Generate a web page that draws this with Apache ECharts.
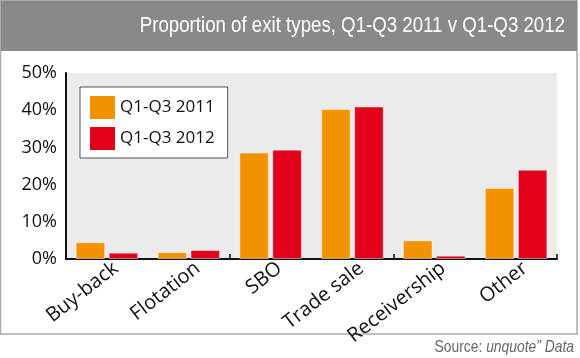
<!DOCTYPE html>
<html>
<head>
<meta charset="utf-8">
<script src="https://cdn.jsdelivr.net/npm/echarts@6/dist/echarts.min.js"></script>
<style>
html,body{margin:0;padding:0;background:#fff;}
#c{width:580px;height:358px;}
</style>
</head>
<body>
<div id="c"></div>
<script>
const categories = ['Buy-back', 'Flotation', 'SBO', 'Trade sale', 'Receivership', 'Other'];
const seriesNames = ['Q1-Q3 2011', 'Q1-Q3 2012'];
const values2011 = [4.5, 1.8, 28.6, 40.3, 5.0, 19.1];
const values2012 = [1.7, 2.4, 29.4, 41.0, 0.9, 24.0];
const titleText = 'Proportion of exit types, Q1-Q3 2011 v Q1-Q3 2012';

const FONT = '"Open Sans", "Noto Sans", sans-serif';
const SANS = '"Liberation Sans", Arial, sans-serif';

const chart = echarts.init(document.getElementById('c'), null, {renderer: 'canvas'});
chart.setOption({
  animation: false,
  backgroundColor: '#ffffff',
  graphic: [
    {type: 'rect', z: -10, shape: {x: 0.5, y: 0.5, width: 576.5, height: 333.5},
     style: {fill: '#ffffff', stroke: '#aaaaaa', lineWidth: 1.5}},
    {type: 'rect', z: -9, shape: {x: 1, y: 1, width: 576, height: 50},
     style: {fill: '#88898b'}},
    {type: 'text', x: 565, y: 26, scaleX: 0.83, z: 10,
     style: {text: titleText, fill: '#ffffff', font: '22.5px ' + SANS,
             align: 'right', verticalAlign: 'middle'}},
    {type: 'text', x: 574, y: 347, scaleX: 0.84, z: 10,
     style: {text: '{a|Source: }{b|unquote\u201D Data}', align: 'right', verticalAlign: 'middle',
             rich: {
               a: {fill: '#666666', fontSize: 16.5, fontFamily: SANS},
               b: {fill: '#666666', fontSize: 16.5, fontStyle: 'italic', fontFamily: SANS}
             }}}
  ],
  legend: {
    data: seriesNames,
    orient: 'vertical',
    left: 80, top: 87,
    itemWidth: 25, itemHeight: 23, itemGap: 8,
    padding: [9, 13, 8, 10],
    backgroundColor: '#ffffff',
    borderColor: '#555555', borderWidth: 1, borderRadius: 0,
    icon: 'rect',
    itemStyle: {borderWidth: 0},
    textStyle: {fontSize: 17, color: '#111111', fontFamily: FONT}
  },
  grid: [
    {left: 66, right: 23, top: 73, bottom: 99,
     show: true, backgroundColor: '#ebebeb', borderWidth: 0},
    {left: 75, right: 14, top: 73, bottom: 99, show: false}
  ],
  xAxis: [
    {
      type: 'category',
      gridIndex: 0,
      data: categories,
      axisLine: {lineStyle: {color: '#111111', width: 2}},
      axisTick: {show: true, inside: true, length: 5, lineStyle: {color: '#111111', width: 1.5}},
      axisLabel: {show: false},
      splitLine: {show: false}
    },
    {
      type: 'category',
      gridIndex: 1,
      data: categories,
      axisLine: {show: false},
      axisTick: {show: false},
      axisLabel: {rotate: 38, fontSize: 20, color: '#111111', fontFamily: FONT, margin: 7, interval: 0},
      splitLine: {show: false}
    }
  ],
  yAxis: [
    {
      type: 'value',
      gridIndex: 0,
      min: 0, max: 50, interval: 10,
      axisLine: {show: true, lineStyle: {color: '#111111', width: 2}},
      axisTick: {show: false},
      splitLine: {show: false},
      axisLabel: {formatter: '{value}%', fontSize: 18, color: '#111111', fontFamily: FONT, margin: 9}
    },
    {
      type: 'value', gridIndex: 1, min: 0, max: 50, interval: 10, show: false
    }
  ],
  series: [
    {name: seriesNames[0], type: 'bar', data: values2011, barWidth: 29.5, barGap: '12%',
     xAxisIndex: 0, yAxisIndex: 0,
     itemStyle: {color: '#f39200', borderColor: 'rgba(255,255,255,0.45)', borderWidth: 1}},
    {name: seriesNames[1], type: 'bar', data: values2012, barWidth: 29.5, barGap: '12%',
     xAxisIndex: 0, yAxisIndex: 0,
     itemStyle: {color: '#e2001a', borderColor: 'rgba(255,255,255,0.45)', borderWidth: 1}}
  ]
});
</script>
</body>
</html>
